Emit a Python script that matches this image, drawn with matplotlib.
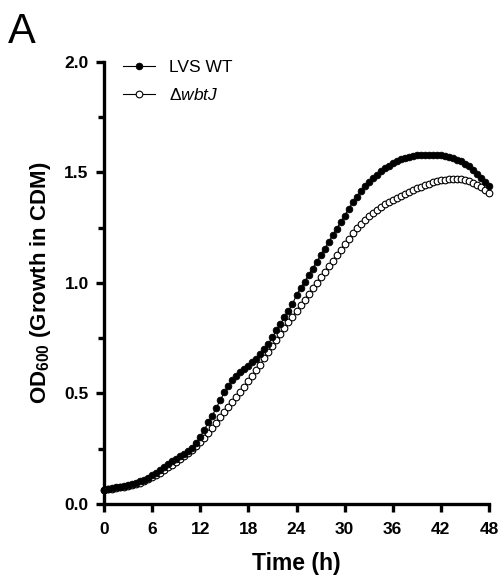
import numpy as np
import matplotlib
matplotlib.use("Agg")
import matplotlib.pyplot as plt

plt.rcParams['font.family'] = ['Liberation Sans', 'DejaVu Sans']
plt.rcParams['mathtext.fontset'] = 'custom'
plt.rcParams['mathtext.rm'] = 'Liberation Sans'
plt.rcParams['mathtext.it'] = 'Liberation Sans:italic'
plt.rcParams['mathtext.bf'] = 'Liberation Sans:bold'

# Time points every 0.5 h from 0 to 48
time_h = [i * 0.5 for i in range(97)]

# LVS WT (filled circles)
lvs_wt = [
    0.065, 0.068, 0.072, 0.075, 0.078, 0.082, 0.086, 0.091, 0.097, 0.103,
    0.110, 0.118, 0.130, 0.141, 0.153, 0.166, 0.180, 0.193, 0.205, 0.216,
    0.227, 0.240, 0.255, 0.278, 0.305, 0.335, 0.370, 0.400, 0.435, 0.470,
    0.505, 0.535, 0.560, 0.580, 0.598, 0.612, 0.626, 0.641, 0.658, 0.678,
    0.700, 0.725, 0.755, 0.785, 0.815, 0.845, 0.875, 0.905, 0.945, 0.975,
    1.005, 1.035, 1.065, 1.095, 1.125, 1.155, 1.185, 1.215, 1.245, 1.275,
    1.305, 1.335, 1.365, 1.390, 1.415, 1.437, 1.457, 1.475, 1.490, 1.505,
    1.518, 1.530, 1.541, 1.551, 1.559, 1.566, 1.571, 1.575, 1.578, 1.580,
    1.581, 1.581, 1.580, 1.579, 1.577, 1.574, 1.570, 1.565, 1.558, 1.550,
    1.540, 1.528, 1.513, 1.495, 1.475, 1.455, 1.440,
]

# delta wbtJ (open circles)
wbtj = [
    0.063, 0.066, 0.069, 0.072, 0.075, 0.078, 0.082, 0.086, 0.091, 0.096,
    0.103, 0.111, 0.120, 0.130, 0.141, 0.153, 0.166, 0.178, 0.190, 0.203,
    0.216, 0.229, 0.244, 0.261, 0.280, 0.300, 0.322, 0.345, 0.368, 0.392,
    0.415, 0.437, 0.460, 0.483, 0.506, 0.530, 0.555, 0.580, 0.605, 0.630,
    0.662, 0.688, 0.714, 0.740, 0.768, 0.795, 0.822, 0.848, 0.874, 0.900,
    0.925, 0.950, 0.975, 1.000, 1.025, 1.050, 1.075, 1.100, 1.125, 1.150,
    1.175, 1.200, 1.225, 1.247, 1.268, 1.287, 1.304, 1.318, 1.331, 1.343,
    1.355, 1.366, 1.376, 1.386, 1.395, 1.404, 1.413, 1.421, 1.429, 1.436,
    1.443, 1.449, 1.455, 1.460, 1.464, 1.467, 1.469, 1.470, 1.470, 1.469,
    1.466, 1.461, 1.454, 1.445, 1.435, 1.422, 1.405,
]

x_ticks = [0, 6, 12, 18, 24, 30, 36, 42, 48]
y_ticks = [0.0, 0.5, 1.0, 1.5, 2.0]

fig = plt.figure(figsize=(5.0, 5.84), dpi=100)
ax = fig.add_axes([0.208, 0.137, 0.770, 0.757])

ax.plot(time_h, lvs_wt, '-o', color='black', lw=0.8, ms=4.8,
        mfc='black', mec='black', mew=0.6, label='LVS WT', clip_on=False, zorder=3)
ax.plot(time_h, wbtj, '-o', color='black', lw=0.8, ms=4.8,
        mfc='white', mec='black', mew=0.8, label=r'$\Delta\mathit{wbtJ}$', clip_on=False, zorder=2)

ax.set_xlim(0, 48)
ax.set_ylim(0, 2.0)
ax.set_xticks(x_ticks)
ax.set_xticklabels([str(t) for t in x_ticks])
ax.set_yticks(y_ticks)
ax.set_yticklabels([f"{v:.1f}" for v in y_ticks])
ax.set_yticks([0.25, 0.75, 1.25, 1.75], minor=True)

for side in ['top', 'right']:
    ax.spines[side].set_visible(False)
for side in ['left', 'bottom']:
    ax.spines[side].set_linewidth(2.4)

ax.tick_params(axis='both', which='major', length=6, width=2.4, labelsize=12.5, pad=5)
ax.tick_params(axis='x', which='major', pad=7)
ax.tick_params(axis='y', which='minor', length=4, width=2.4)
for lab in ax.get_xticklabels() + ax.get_yticklabels():
    lab.set_fontweight('bold')

ax.set_xlabel('Time (h)', fontsize=16.5, fontweight='bold', labelpad=11)
ax.set_ylabel(r'OD$_{\mathbf{600}}$ (Growth in CDM)', fontsize=16, fontweight='bold', labelpad=8)

leg = ax.legend(loc='upper left', bbox_to_anchor=(0.01, 1.04), frameon=False,
                fontsize=12.5, handlelength=1.8, handletextpad=0.8, labelspacing=0.7)

fig.text(0.015, 0.98, 'A', fontsize=30, va='top', ha='left')

fig.savefig('out.png', dpi=100)
